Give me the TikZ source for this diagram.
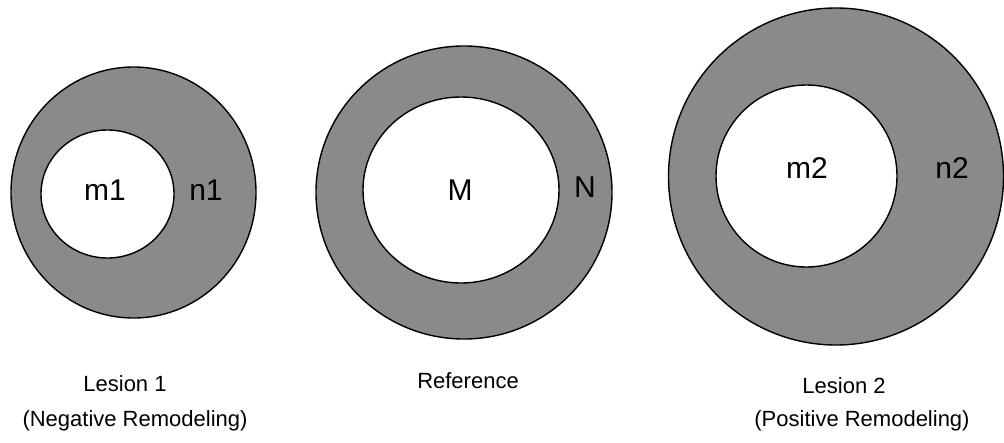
\documentclass[tikz,border=0pt]{standalone}
\usepackage{fontspec}
\setmainfont{Liberation Sans}
\definecolor{ringgray}{RGB}{138,138,138}
\begin{document}
\begin{tikzpicture}[x=1pt,y=-1pt,
  ring/.style={fill=ringgray,draw=black,line width=1.4pt},
  hole/.style={fill=white,draw=black,line width=1.4pt},
  biglabel/.style={font=\fontsize{30}{36}\selectfont,inner sep=0pt},
  caption/.style={font=\fontsize{22}{26}\selectfont,inner sep=0pt}]
\useasboundingbox (0,0) rectangle (1004,442);
% Lesion 1
\draw[ring] (133.5,192.5) ellipse [x radius=122.5pt, y radius=125.5pt];
\draw[hole] (107.5,194) ellipse [x radius=66.5pt, y radius=64pt];
\node[biglabel] (m1) at (105,190) {m1};
\node[biglabel] (n1) at (206,190) {n1};
% Reference
\draw[ring] (464,192.5) ellipse [x radius=148pt, y radius=146.5pt];
\draw[hole] (461,190) ellipse [x radius=98pt, y radius=93pt];
\node[biglabel] (M) at (460,190) {M};
\node[biglabel] (N) at (585,187) {N};
% Lesion 2
\draw[ring] (836,176.5) ellipse [x radius=167.5pt, y radius=168.5pt];
\draw[hole] (806.5,176) ellipse [x radius=90.5pt, y radius=91pt];
\node[biglabel] (m2) at (807,168) {m2};
\node[biglabel] (n2) at (952,168) {n2};
% captions
\node[caption] (l1) at (125,384) {Lesion 1};
\node[caption] (l1b) at (135,421) {(Negative Remodeling)};
\node[caption] (ref) at (468,381) {Reference};
\node[caption] (l2) at (844,386) {Lesion 2};
\node[caption] (l2b) at (862,421) {(Positive Remodeling)};
\end{tikzpicture}
\end{document}
